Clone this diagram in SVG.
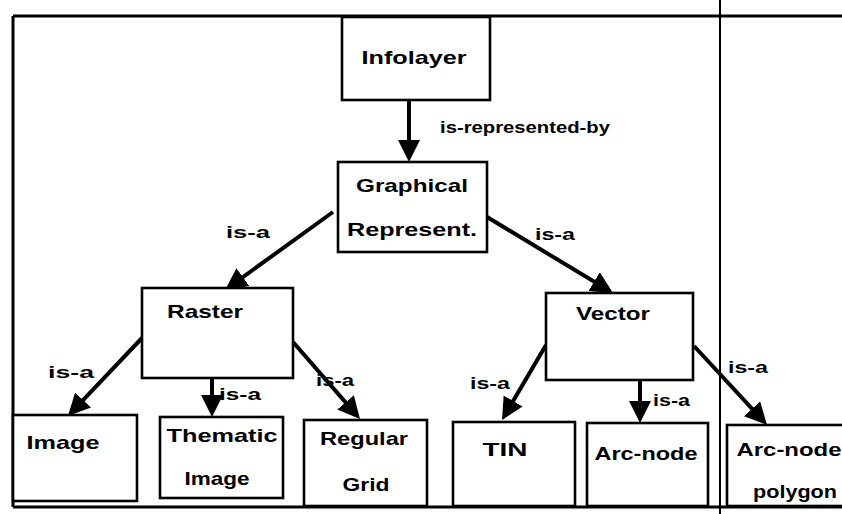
<svg xmlns="http://www.w3.org/2000/svg" width="842" height="514" viewBox="0 0 842 514">
<style>
.frame{stroke:#000;stroke-width:3;fill:none}
.box{fill:#fff;stroke:#000;stroke-width:2.6}
.t{font-family:"Liberation Sans",Arial,sans-serif;font-size:19px;font-weight:bold;fill:#000;text-anchor:middle}
.l{font-family:"Liberation Sans",Arial,sans-serif;font-size:17px;font-weight:bold;fill:#000}
.c{stroke:#000;stroke-width:4;fill:none;marker-end:url(#ah)}
</style>
<defs>
<marker id="ah" markerUnits="userSpaceOnUse" markerWidth="24" markerHeight="24" refX="8" refY="11" orient="auto">
<path d="M0,0 L22,11 L0,22 z" fill="#000"/>
</marker>
</defs>
<g id="frame">
<line class="frame" x1="13" y1="16" x2="842" y2="16"/>
<line class="frame" x1="13" y1="16" x2="13" y2="507"/>
<line class="frame" x1="13" y1="507" x2="842" y2="507"/>
<line class="frame" x1="720" y1="0" x2="720" y2="514" style="stroke-width:2"/>
</g>
<g id="connectors">
<line class="c" x1="409" y1="100" x2="409" y2="148"/>
<line class="c" x1="333" y1="212" x2="236.4" y2="281.8"/>
<line class="c" x1="487" y1="217" x2="601" y2="285.8"/>
<line class="c" x1="142" y1="338" x2="77.6" y2="405.8"/>
<line class="c" x1="212" y1="378" x2="212" y2="403"/>
<line class="c" x1="293" y1="342" x2="350.8" y2="408.4"/>
<line class="c" x1="546" y1="345" x2="509.1" y2="407.9"/>
<line class="c" x1="640" y1="380" x2="640" y2="409"/>
<line class="c" x1="694" y1="346" x2="757.5" y2="414.7"/>
<text class="l" x="440" y="133" textLength="170" lengthAdjust="spacingAndGlyphs">is-represented-by</text>
<text class="l" x="226" y="238" textLength="44" lengthAdjust="spacingAndGlyphs">is-a</text>
<text class="l" x="535" y="240" textLength="40" lengthAdjust="spacingAndGlyphs">is-a</text>
<text class="l" x="48" y="378" textLength="46" lengthAdjust="spacingAndGlyphs">is-a</text>
<text class="l" x="219" y="400" textLength="42" lengthAdjust="spacingAndGlyphs">is-a</text>
<text class="l" x="316" y="386" textLength="38" lengthAdjust="spacingAndGlyphs">is-a</text>
<text class="l" x="470" y="389" textLength="40" lengthAdjust="spacingAndGlyphs">is-a</text>
<text class="l" x="653" y="406" textLength="37" lengthAdjust="spacingAndGlyphs">is-a</text>
<text class="l" x="728" y="373" textLength="40" lengthAdjust="spacingAndGlyphs">is-a</text>
</g>
<g id="infolayer">
<rect class="box" x="342" y="17" width="148" height="83"/>
<text class="t" x="414" y="64" textLength="105" lengthAdjust="spacingAndGlyphs">Infolayer</text>
</g>
<g id="graphical">
<rect class="box" x="338" y="162" width="149" height="90"/>
<text class="t" x="412" y="192" textLength="112" lengthAdjust="spacingAndGlyphs">Graphical</text>
<text class="t" x="412" y="236" textLength="130" lengthAdjust="spacingAndGlyphs">Represent.</text>
</g>
<g id="raster">
<rect class="box" x="142" y="288" width="151" height="90"/>
<text class="t" x="205" y="318" textLength="76" lengthAdjust="spacingAndGlyphs">Raster</text>
</g>
<g id="vector">
<rect class="box" x="546" y="293" width="147" height="87"/>
<text class="t" x="613" y="320" textLength="74" lengthAdjust="spacingAndGlyphs">Vector</text>
</g>
<g id="image">
<rect class="box" x="13" y="415" width="124" height="86"/>
<text class="t" x="63" y="449" textLength="73" lengthAdjust="spacingAndGlyphs">Image</text>
</g>
<g id="thematic">
<rect class="box" x="160" y="417" width="123" height="81"/>
<text class="t" x="222" y="442" textLength="111" lengthAdjust="spacingAndGlyphs">Thematic</text>
<text class="t" x="217" y="485" textLength="65" lengthAdjust="spacingAndGlyphs">Image</text>
</g>
<g id="regular">
<rect class="box" x="304" y="420" width="123" height="86"/>
<text class="t" x="364" y="445" textLength="88" lengthAdjust="spacingAndGlyphs">Regular</text>
<text class="t" x="366" y="491" textLength="47" lengthAdjust="spacingAndGlyphs">Grid</text>
</g>
<g id="tin">
<rect class="box" x="453" y="422" width="122" height="84"/>
<text class="t" x="505" y="456" textLength="45" lengthAdjust="spacingAndGlyphs">TIN</text>
</g>
<g id="arcnode">
<rect class="box" x="587" y="423" width="121" height="83"/>
<text class="t" x="646" y="460" textLength="103" lengthAdjust="spacingAndGlyphs">Arc-node</text>
</g>
<g id="polygon">
<rect class="box" x="727" y="425" width="120" height="81"/>
<text class="t" x="789" y="456" textLength="105" lengthAdjust="spacingAndGlyphs">Arc-node</text>
<text class="t" x="795" y="498" textLength="84" lengthAdjust="spacingAndGlyphs">polygon</text>
</g>
</svg>
